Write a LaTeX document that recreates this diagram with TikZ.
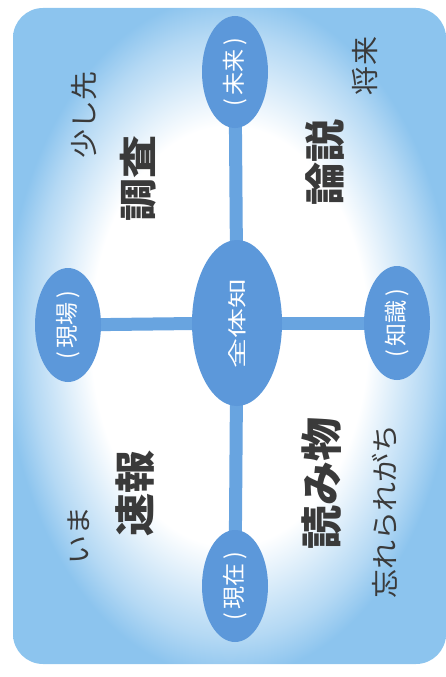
\documentclass[tikz,border=0pt]{standalone}
\usepackage{fontspec}
\setmainfont{Noto Sans CJK JP}
\usetikzlibrary{shapes.geometric,backgrounds}
\definecolor{bgblue}{RGB}{140,196,238}
\definecolor{ellblue}{RGB}{92,152,218}
\definecolor{linblue}{RGB}{104,164,224}
\definecolor{txtgray}{RGB}{58,58,58}
\pgfdeclareradialshading{bgshade}{\pgfpoint{0bp}{0bp}}{color(0bp)=(white); color(16bp)=(white); color(23bp)=(bgblue!65); color(26bp)=(bgblue); color(50bp)=(bgblue)}
\newcommand{\rt}[3]{\rotatebox{90}{\fontsize{#1}{#1}\selectfont\scalebox{1}[#2]{#3}}}
\tikzset{
  bubble/.style={ellipse, fill=ellblue, draw=none, inner sep=0pt, text=white, minimum width=66pt, minimum height=112pt},
  label/.style={text=txtgray, inner sep=0pt},
  conn/.style={draw=linblue, line width=13pt}
}
\begin{document}
\begin{tikzpicture}[x=1pt,y=-1pt]
\useasboundingbox (0,0) rectangle (446,677);
\node[bubble, minimum width=90pt, minimum height=166pt] (C) at (237,323) {\rt{30}{0.63}{全体知}};
\node[bubble] (T) at (235,72) {\rt{23}{1}{(\,未来\,)}};
\node[bubble] (B) at (235,586) {\rt{23}{1}{(\,現在\,)}};
\node[bubble, minimum height=114pt] (L) at (68,325) {\rt{23}{1}{(\,現場\,)}};
\node[bubble, minimum height=114pt] (R) at (397,323) {\rt{23}{1}{(\,知識\,)}};
\node[label] (sukoshi) at (84,115) {\rt{29}{0.95}{少し先}};
\node[label] (chousa) at (138,178) {\rt{43}{0.88}{\bfseries 調査}};
\node[label] (ronsetsu) at (325,162) {\rt{43}{0.95}{\bfseries 論説}};
\node[label] (shourai) at (365,66) {\rt{29}{0.95}{将来}};
\node[label] (ima) at (79,535) {\rt{29}{0.9}{いま}};
\node[label] (sokuhou) at (135,493) {\rt{43}{0.95}{\bfseries 速報}};
\node[label] (yomimono) at (322,483) {\rt{44}{0.95}{\bfseries 読み物}};
\node[label] (wasure) at (385,511) {\rt{29}{0.95}{忘れられがち}};
\begin{scope}[on background layer]
\path[shading=bgshade, rounded corners=30pt] (13,8) rectangle (446,664);
\draw[conn] (T.center) -- (C.center);
\draw[conn] (C.center) -- (B.center);
\draw[conn] (L.center) -- (C.center);
\draw[conn] (C.center) -- (R.center);
\end{scope}
\end{tikzpicture}
\end{document}
